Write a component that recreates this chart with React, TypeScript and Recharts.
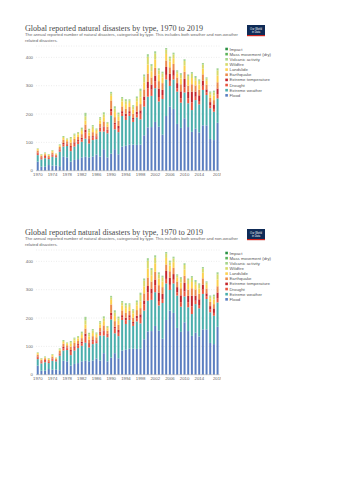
import React from 'react'
import { BarChart, Bar, XAxis, YAxis, CartesianGrid } from 'recharts'

const years = [
  1970, 1971, 1972, 1973, 1974, 1975, 1976, 1977, 1978, 1979,
  1980, 1981, 1982, 1983, 1984, 1985, 1986, 1987, 1988, 1989,
  1990, 1991, 1992, 1993, 1994, 1995, 1996, 1997, 1998, 1999,
  2000, 2001, 2002, 2003, 2004, 2005, 2006, 2007, 2008, 2009,
  2010, 2011, 2012, 2013, 2014, 2015, 2016, 2017, 2018, 2019,
]

const flood = [
  32, 14, 14, 20, 18, 18, 16, 49, 47, 32,
  38, 41, 47, 49, 47, 50, 57, 50, 76, 47,
  60, 76, 58, 85, 88, 92, 92, 91, 92, 125,
  153, 154, 172, 155, 127, 193, 226, 218, 165, 151,
  185, 154, 137, 148, 135, 160, 160, 112, 108, 169,
]
const extremeWeather = [
  23, 26, 30, 21, 31, 29, 51, 36, 40, 37,
  47, 53, 55, 64, 49, 58, 54, 88, 62, 85,
  135, 70, 78, 108, 91, 101, 80, 97, 89, 101,
  108, 110, 119, 89, 126, 129, 73, 104, 114, 89,
  91, 84, 77, 101, 99, 125, 107, 108, 100, 86,
]
const drought = [
  6, 4, 5, 4, 5, 3, 4, 8, 6, 12,
  10, 10, 9, 22, 10, 9, 7, 10, 14, 9,
  14, 17, 12, 10, 13, 9, 8, 11, 20, 22,
  30, 22, 25, 16, 14, 16, 18, 13, 12, 16,
  18, 18, 27, 12, 12, 15, 10, 10, 10, 15,
]
const extremeTemperature = [
  3, 3, 3, 2, 3, 2, 4, 5, 3, 6,
  5, 4, 5, 10, 5, 5, 3, 4, 4, 3,
  9, 6, 10, 7, 9, 8, 6, 9, 12, 14,
  22, 18, 20, 30, 18, 28, 25, 20, 18, 24,
  30, 22, 38, 18, 20, 18, 10, 12, 16, 20,
]
const earthquake = [
  7, 6, 6, 5, 7, 5, 9, 11, 8, 12,
  12, 11, 13, 18, 13, 14, 11, 13, 18, 11,
  30, 20, 18, 17, 17, 15, 15, 20, 22, 25,
  30, 25, 27, 26, 24, 23, 23, 22, 20, 25,
  25, 22, 26, 22, 20, 22, 17, 15, 15, 22,
]
const landslide = [
  5, 3, 3, 4, 5, 2, 4, 6, 5, 10,
  9, 9, 11, 14, 11, 11, 8, 12, 15, 9,
  16, 18, 14, 17, 17, 14, 15, 17, 24, 25,
  32, 22, 30, 24, 20, 23, 20, 20, 13, 20,
  22, 20, 22, 16, 18, 20, 13, 11, 16, 24,
]
const wildfire = [
  1, 1, 1, 1, 2, 1, 2, 4, 3, 6,
  6, 5, 7, 15, 8, 9, 5, 7, 10, 5,
  8, 12, 9, 10, 10, 8, 10, 11, 22, 20,
  27, 18, 20, 14, 14, 15, 11, 13, 7, 13,
  16, 14, 15, 10, 13, 14, 8, 7, 11, 18,
]
const volcanicActivity = [
  2, 2, 1, 2, 2, 1, 3, 3, 2, 4,
  4, 3, 5, 11, 5, 5, 4, 5, 7, 3,
  5, 7, 6, 6, 6, 5, 5, 6, 7, 6,
  8, 6, 7, 6, 5, 5, 5, 5, 4, 5,
  5, 4, 5, 4, 4, 5, 3, 3, 5, 6,
]
const massMovement = [
  0, 0, 1, 0, 0, 0, 0, 0, 0, 0,
  0, 0, 0, 1, 0, 0, 0, 0, 0, 0,
  1, 1, 0, 0, 1, 0, 0, 0, 1, 1,
  1, 1, 1, 1, 1, 1, 1, 1, 1, 1,
  1, 1, 1, 1, 1, 1, 1, 1, 1, 1,
]
const impact = [
  0, 0, 0, 0, 0, 0, 0, 0, 0, 0,
  0, 0, 0, 0, 0, 0, 0, 0, 0, 0,
  0, 0, 0, 0, 0, 0, 0, 0, 0, 0,
  0, 0, 0, 0, 0, 0, 0, 0, 0, 0,
  0, 0, 0, 1, 0, 0, 0, 0, 0, 0,
]

const yTicks = [0, 100, 200, 300, 400]
const xLabels = [1970, 1974, 1978, 1982, 1986, 1990, 1994, 1998, 2002, 2006, 2010, 2014, 2019]

// bottom of the stack first
const series = [
  { key: 'flood', name: 'Flood', color: '#5b7fc1', values: flood },
  { key: 'extremeWeather', name: 'Extreme weather', color: '#4aaeac', values: extremeWeather },
  { key: 'drought', name: 'Drought', color: '#e8553f', values: drought },
  { key: 'extremeTemperature', name: 'Extreme temperature', color: '#c4262b', values: extremeTemperature },
  { key: 'earthquake', name: 'Earthquake', color: '#ec8a4c', values: earthquake },
  { key: 'landslide', name: 'Landslide', color: '#fcd14f', values: landslide },
  { key: 'wildfire', name: 'Wildfire', color: '#d6da6a', values: wildfire },
  { key: 'volcanicActivity', name: 'Volcanic activity', color: '#a5d48b', values: volcanicActivity },
  { key: 'massMovement', name: 'Mass movement (dry)', color: '#5cb35a', values: massMovement },
  { key: 'impact', name: 'Impact', color: '#2a9143', values: impact },
]

const data = years.map((year, i) => {
  const row: Record<string, number> = { year }
  series.forEach(s => { row[s.key] = s.values[i] })
  return row
})

const SANS = '"Liberation Sans", Arial, sans-serif'
const SERIF = '"Liberation Serif", "Times New Roman", serif'

const XTick = ({ x, y, payload }: any) => {
  if (!xLabels.includes(payload.value)) return <g />
  return (
    <text x={x} y={y + 5.2} textAnchor="middle" fontSize={4.3} fill="#666" fontFamily={SANS}>
      {payload.value}
    </text>
  )
}

function DisasterChart({ top }: { top: number }) {
  const legend = [...series].reverse()
  return (
    <div style={{ position: 'absolute', left: 0, top, width: 353, height: 190 }}>
      <div style={{ position: 'absolute', left: 0, top: 0 }}>
        <BarChart
          width={221} height={182} data={data}
          margin={{ top: 46, right: 1.5, bottom: 0, left: 0 }}
          barCategoryGap="20%"
        >
          <CartesianGrid vertical={false} stroke="#d9d9d9" strokeWidth={0.5} strokeDasharray="1 1.5" />
          <XAxis
            dataKey="year" interval={0} height={11.3}
            tickLine={false} tickSize={0} tickMargin={0}
            axisLine={{ stroke: '#aaa', strokeWidth: 0.5 }}
            tick={<XTick />}
          />
          <YAxis
            domain={[0, 440]} ticks={yTicks} width={36}
            tickLine={false} axisLine={false} tickSize={0} tickMargin={3}
            tick={{ fontSize: 4.3, fill: '#666', fontFamily: SANS }}
          />
          {series.map(s => (
            <Bar key={s.key} dataKey={s.key} name={s.name} stackId="a" fill={s.color} isAnimationActive={false} />
          ))}
        </BarChart>
      </div>
      <svg width={353} height={110} style={{ position: 'absolute', left: 0, top: 0, pointerEvents: 'none' }}>
        <text x={25} y={30.8} fontSize={8} fill="#4a4a4a" fontFamily={SERIF} textLength={178} lengthAdjust="spacingAndGlyphs">
          Global reported natural disasters by type, 1970 to 2019
        </text>
        <text x={25} y={35.9} fontSize={4.3} fill="#666" fontFamily={SANS} textLength={213} lengthAdjust="spacingAndGlyphs">
          The annual reported number of natural disasters, categorised by type. This includes both weather and non-weather
        </text>
        <text x={25} y={42.3} fontSize={4.3} fill="#666" fontFamily={SANS}>
          related disasters.
        </text>
        <rect x={247} y={25} width={18} height={11} fill="#0f2b57" />
        <rect x={247} y={35} width={18} height={1.2} fill="#ce261e" />
        <text x={256} y={29.6} fontSize={2.6} fill="#fff" textAnchor="middle" fontFamily={SANS}>Our World</text>
        <text x={256} y={32.6} fontSize={2.6} fill="#fff" textAnchor="middle" fontFamily={SANS}>in Data</text>
        {legend.map((s, i) => {
          const cy = 49 + i * 5.15
          return (
            <g key={s.key}>
              <rect x={225.3} y={cy - 1.3} width={2.6} height={2.6} fill={s.color} />
              <text x={229.5} y={cy + 1.5} fontSize={4.3} fill="#555" fontFamily={SANS}>{s.name}</text>
            </g>
          )
        })}
      </svg>
    </div>
  )
}

export default function App() {
  return (
    <div style={{ position: 'absolute', left: 0, top: 0, width: 353, height: 500, background: '#fff' }}>
      <DisasterChart top={0} />
      <DisasterChart top={204} />
    </div>
  )
}
